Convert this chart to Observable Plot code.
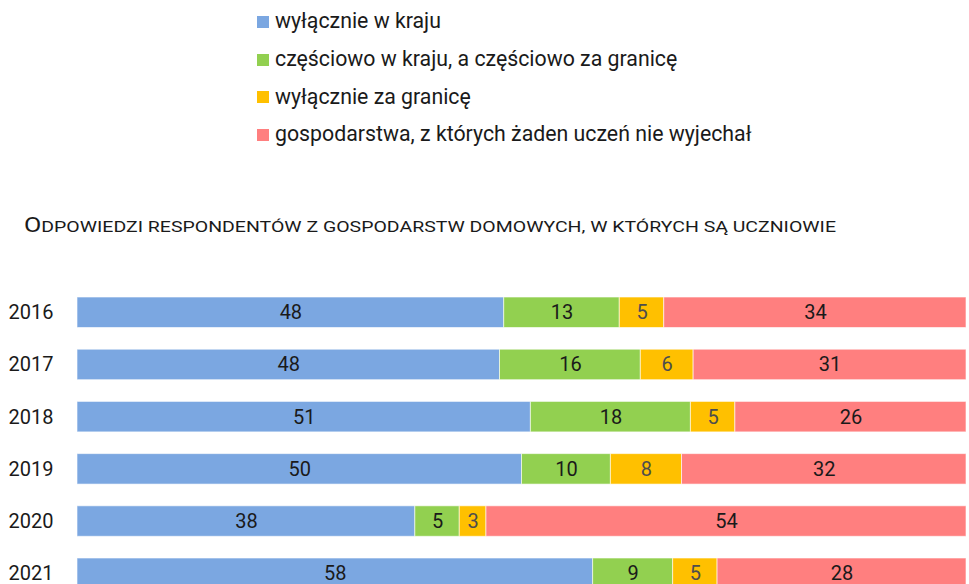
<!DOCTYPE html>
<html>
<head>
<meta charset="utf-8">
<script src="https://cdn.jsdelivr.net/npm/d3@7"></script>
<script src="https://cdn.jsdelivr.net/npm/@observablehq/plot@0.6"></script>
<style>
  html, body { margin: 0; padding: 0; background: #fff; }
  body { width: 969px; height: 584px; overflow: hidden; position: relative; font-family: Roboto, sans-serif; color: #1a1a1a; }
  #legend { position: absolute; left: 257px; top: 2px; }
  .item { display: flex; align-items: center; height: 37.7px; font-size: 21.3px; }
  .sw { width: 12px; height: 12px; margin-right: 6px; margin-top: 2px; flex: none; }
  #subtitle { position: absolute; left: 0; top: 205px; }
  #pct { position: absolute; left: 953px; top: 261px; font-size: 18px; }
  #chart { position: absolute; left: 0; top: 255px; }
</style>
</head>
<body>
<div id="legend"></div>
<svg id="subtitle" width="969" height="34" xmlns="http://www.w3.org/2000/svg">
  <text x="24" y="26.5" textLength="812" lengthAdjust="spacingAndGlyphs" font-family="Roboto, sans-serif" fill="#1a1a1a"><tspan font-size="20">O</tspan><tspan font-size="15.5">DPOWIEDZI RESPONDENTÓW Z GOSPODARSTW DOMOWYCH, W KTÓRYCH SĄ UCZNIOWIE</tspan></text>
</svg>
<div id="pct">%</div>
<div id="chart"></div>
<script>
const years = ["2016", "2017", "2018", "2019", "2020", "2021"];
const categories = [
  "wyłącznie w kraju",
  "częściowo w kraju, a częściowo za granicę",
  "wyłącznie za granicę",
  "gospodarstwa, z których żaden uczeń nie wyjechał"
];
const colors = ["#7BA7E1", "#92D050", "#FFC000", "#FF7F7F"];
const labelColors = ["#1a1a1a", "#1a1a1a", "#4d4d4d", "#1a1a1a"];
const onlyDomestic = [48, 48, 51, 50, 38, 58];
const partly = [13, 16, 18, 10, 5, 9];
const onlyAbroad = [5, 6, 5, 8, 3, 5];
const none = [34, 31, 26, 32, 54, 28];
const series = [onlyDomestic, partly, onlyAbroad, none];

const data = [];
years.forEach((y, i) => {
  categories.forEach((c, j) => {
    data.push({year: y, cat: c, value: series[j][i], idx: j});
  });
});

// legend
const legend = document.getElementById("legend");
categories.forEach((c, j) => {
  const d = document.createElement("div");
  d.className = "item";
  const s = document.createElement("span");
  s.className = "sw";
  s.style.background = colors[j];
  const t = document.createElement("span");
  t.textContent = c;
  d.appendChild(s); d.appendChild(t);
  legend.appendChild(d);
});

const chart = Plot.plot({
  width: 969,
  height: 360,
  marginLeft: 77,
  marginRight: 3,
  marginTop: 0,
  marginBottom: 0,
  style: {fontFamily: "Roboto, sans-serif", fontSize: "20px", color: "#1a1a1a", background: "white"},
  x: {axis: null, domain: [0, 1]},
  y: {domain: years, range: [20.3, 355.2], padding: 0.416, round: false, label: null},
  color: {domain: categories, range: colors},
  marks: [
    Plot.barX(data, Plot.stackX({
      x: "value", y: "year", z: "cat", fill: "cat", offset: "normalize",
      stroke: "white", strokeWidth: 1, strokeOpacity: 0.6
    })),
    Plot.text(data, Plot.stackX({
      x: "value", y: "year", z: "cat", offset: "normalize",
      text: d => String(d.value),
      fill: d => labelColors[d.idx],
      fontSize: 20
    })),
    Plot.axisY({tickSize: 0, tickPadding: 69, textAnchor: "start", fontSize: 20, label: null})
  ]
});
document.getElementById("chart").appendChild(chart);
</script>
</body>
</html>
